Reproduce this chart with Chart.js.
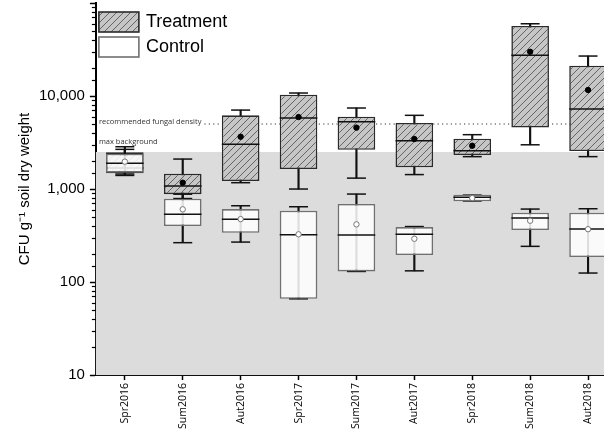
<!DOCTYPE html>
<html><head><meta charset="utf-8">
<script src="https://cdn.jsdelivr.net/npm/chart.js@4"></script>
<style>html,body{margin:0;padding:0;overflow:hidden;background:#fff}#c{display:block;margin-top:-11px}</style>
</head><body>
<canvas id="c" width="628" height="445"></canvas>
<script>
// ---- data ----
const seasons = ['Spr2016','Sum2016','Aut2016','Spr2017','Sum2017','Aut2017','Spr2018','Sum2018','Aut2018'];
const yTickValues = [10, 100, 1000, 10000];
const recommendedDensity = 5000;
const maxBackground = 2500;

const treatMin  = [1400,  790, 1170,  1000, 1310, 1430, 2230,  2990,  2230];
const treatQ1   = [1480,  880, 1220,  1640, 2640, 1710, 2320,  4600,  2560];
const treatMed  = [1680, 1080, 3030,  5800, 5300, 3310, 2580, 27400,  7250];
const treatQ3   = [2480, 1460, 6200, 10330, 5990, 5130, 3480, 56600, 21200];
const treatMax  = [2850, 2100, 7060, 10770, 7430, 6200, 3840, 59800, 26900];
const treatMean = [1950, 1170, 3650,  5940, 4570, 3450, 2920, 29900, 11600];

const ctrlMin  = [1450, 265, 269,  66, 130, 132, 745, 242, 125];
const ctrlQ1   = [1500, 400, 339,  66, 130, 195, 738, 362, 186];
const ctrlMed  = [1890, 535, 472, 323, 320, 326, 815, 488, 372];
const ctrlQ3   = [2400, 786, 609, 585, 690, 390, 868, 556, 556];
const ctrlMax  = [2670, 880, 661, 645, 883, 395, 860, 609, 614];
const ctrlMean = [1970, 605, 475, 326, 417, 292, 800, 456, 370];

// ---- styling helpers ----
const boxFrac = 0.65;
const canvas = document.getElementById('c');
const mainCtx = canvas.getContext('2d');
function hatchPattern(){
  const s = 7, c = document.createElement('canvas');
  c.width = c.height = s;
  const g = c.getContext('2d');
  g.fillStyle = '#c6c6c6'; g.fillRect(0,0,s,s);
  g.strokeStyle = '#5a5a5a'; g.lineWidth = 0.9;
  g.beginPath();
  g.moveTo(-1, s+1); g.lineTo(s+1, -1);
  g.moveTo(-1, 1); g.lineTo(1, -1);
  g.moveTo(s-1, s+1); g.lineTo(s+1, s-1);
  g.stroke();
  return mainCtx.createPattern(c, 'repeat');
}
const hatch = hatchPattern();
const isPow10 = v => Math.abs(Math.log10(v) - Math.round(Math.log10(v))) < 1e-9;
const pair = (lo, hi) => lo.map((v, i) => [v, hi[i]]);
const medRadius = ctx => {
  const x = ctx.chart.scales.x;
  return x ? (x.width / seasons.length) * boxFrac / 2 : 18;
};

function groupSets(name, q1, q3, med, mn, mx, mean, look, baseOrder){
  return [
    {type:'bar', label:name+' whisker', data:pair(mn, mx), backgroundColor:'#111', borderWidth:0,
     barThickness:1.5, grouped:false, order:baseOrder+5},
    {type:'line', label:name+' max', data:mx, showLine:false, pointStyle:'line', pointRadius:9.5,
     pointHoverRadius:9.5, pointBorderWidth:1.5, pointBorderColor:'#111', order:baseOrder+4},
    {type:'line', label:name+' min', data:mn, showLine:false, pointStyle:'line', pointRadius:9.5,
     pointHoverRadius:9.5, pointBorderWidth:1.5, pointBorderColor:'#111', order:baseOrder+4},
    {type:'bar', label:name, isBox:true, data:pair(q1, q3), backgroundColor:look.fill, borderColor:look.stroke,
     borderWidth:1.6, borderSkipped:false, grouped:false, categoryPercentage:1, barPercentage:boxFrac,
     order:baseOrder+3},
    {type:'line', label:name+' median', data:med, showLine:false, pointStyle:'line', pointRadius:medRadius,
     pointHoverRadius:medRadius, pointBorderWidth:1.5, pointBorderColor:'#111', order:baseOrder+2},
    {type:'line', label:name+' mean', data:mean, showLine:false, pointStyle:'circle', pointRadius:2.7,
     pointHoverRadius:2.7, pointBackgroundColor:look.meanFill, pointBorderColor:look.meanStroke,
     pointBorderWidth:1, order:baseOrder+1}
  ];
}

const datasets = [
  ...groupSets('Treatment', treatQ1, treatQ3, treatMed, treatMin, treatMax, treatMean,
    {fill:hatch, stroke:'#2a2a2a', meanFill:'#000', meanStroke:'#000'}, 10),
  ...groupSets('Control', ctrlQ1, ctrlQ3, ctrlMed, ctrlMin, ctrlMax, ctrlMean,
    {fill:'rgba(255,255,255,0.86)', stroke:'#707070', meanFill:'#fff', meanStroke:'#777'}, 0)
];

const decor = {
  id:'decor',
  beforeDatasetsDraw(chart){
    const {ctx, chartArea:a, scales:{y}} = chart;
    const yb = y.getPixelForValue(maxBackground);
    const yr = y.getPixelForValue(recommendedDensity);
    ctx.save();
    ctx.fillStyle = '#dcdcdc';
    ctx.fillRect(a.left, yb, a.right - a.left, a.bottom - yb);
    ctx.font = '7.5px "Open Sans"';
    ctx.fillStyle = '#333';
    ctx.textBaseline = 'alphabetic';
    const t1 = 'recommended fungal density';
    ctx.fillText(t1, a.left + 3, yr - 0.5);
    const w = ctx.measureText(t1).width;
    ctx.fillText('max background', a.left + 3, yb - 8);
    ctx.setLineDash([1.2, 3.2]);
    ctx.strokeStyle = '#333'; ctx.lineWidth = 1;
    ctx.beginPath(); ctx.moveTo(a.left + 3 + w + 3, yr); ctx.lineTo(a.right, yr); ctx.stroke();
    ctx.restore();
  },
  afterDraw(chart){
    const {ctx, chartArea:a, scales:{y}} = chart;
    ctx.save();
    // minor ticks
    ctx.strokeStyle = '#000'; ctx.lineWidth = 1.2;
    y.ticks.forEach(t => {
      if (isPow10(t.value)) return;
      const py = Math.round(y.getPixelForValue(t.value)) + 0.5;
      ctx.beginPath(); ctx.moveTo(a.left - 4, py); ctx.lineTo(a.left, py); ctx.stroke();
    });
    // legend
    const boxes = chart.data.datasets.filter(d => d.isBox);
    ctx.font = '18px "Liberation Sans"';
    ctx.textBaseline = 'middle';
    boxes.forEach((d, i) => {
      const bx = a.left + 3, by = a.top + 9 + i * 25;
      ctx.fillStyle = '#fff'; ctx.fillRect(bx, by, 40, 20);
      ctx.fillStyle = d.backgroundColor; ctx.fillRect(bx, by, 40, 20);
      ctx.strokeStyle = d.borderColor; ctx.lineWidth = 1.6; ctx.strokeRect(bx, by, 40, 20);
      ctx.fillStyle = '#000';
      ctx.fillText(d.label, bx + 47, by + 10);
    });
    ctx.restore();
  }
};

new Chart(canvas, {
  data:{labels:seasons, datasets},
  plugins:[decor],
  options:{
    responsive:false, animation:false, events:[],
    layout:{padding:{left:16, top:0, right:0, bottom:2}},
    plugins:{legend:{display:false}, tooltip:{enabled:false}},
    scales:{
      x:{type:'category', offset:true,
         grid:{display:true, drawOnChartArea:false, drawTicks:true, tickLength:5, tickColor:'#000', tickWidth:1.5, offset:false},
         border:{display:true, color:'#000', width:2},
         ticks:{minRotation:90, maxRotation:90, padding:3, autoSkip:false, color:'#000',
                font:{family:'"Open Sans"', size:10.5}}},
      y:{type:'logarithmic', min:10, max:100000,
         grid:{display:true, drawOnChartArea:false, tickLength:6, tickWidth:1.5,
               tickColor: c => (c.tick && isPow10(c.tick.value)) ? '#000' : 'rgba(0,0,0,0)'},
         border:{display:true, color:'#000', width:2},
         ticks:{autoSkip:false, padding:5, color:'#000', font:{family:'"Liberation Sans"', size:15},
                callback: v => yTickValues.includes(Number(v)) ? Number(v).toLocaleString('en-US') : ''},
         title:{display:true, text:'CFU g\u207B\u00B9 soil dry weight', color:'#000',
                font:{family:'"Liberation Sans"', size:15}, padding:{top:0, bottom:0}}}
    }
  }
});
</script>
</body></html>
